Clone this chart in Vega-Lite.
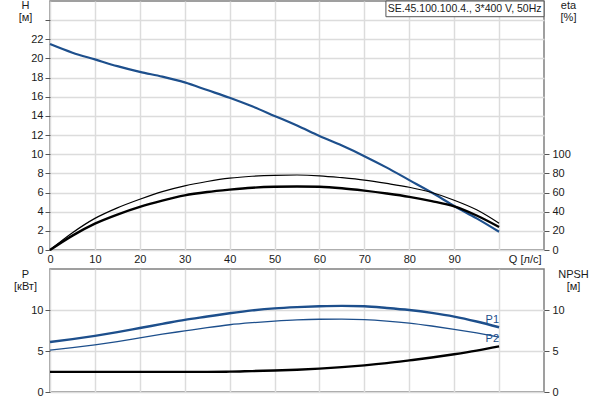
{
  "$schema": "https://vega.github.io/schema/vega-lite/v6.json",
  "background": "white",
  "padding": {"left": 12, "top": -2, "right": 0, "bottom": 0},
  "spacing": 19,
  "bounds": "flush",
  "config": {
    "font": "Liberation Sans",
    "view": {"stroke": "#808080", "strokeWidth": 1.5},
    "axis": {
      "domain": false,
      "labelFont": "Liberation Sans",
      "labelFontSize": 11,
      "labelColor": "#1a1a1a",
      "labelOverlap": false,
      "labelFlush": false,
      "titleFont": "Liberation Sans",
      "titleFontSize": 11,
      "titleFontWeight": "normal",
      "titleColor": "#1a1a1a",
      "tickColor": "#555555",
      "tickSize": 5,
      "gridColor": "#dcdcdc",
      "gridWidth": 1.5,
      "labelPadding": 2
    }
  },
  "datasets": {
    "pump": [
      {"Q": 0, "H": 21.5, "eta1": 0, "eta2": 0, "P1": 6.1, "P2": 5.1, "NPSH": 2.45},
      {"Q": 5, "H": 20.6, "eta1": 18, "eta2": 15, "P1": 6.45, "P2": 5.4, "NPSH": 2.45},
      {"Q": 10, "H": 19.9, "eta1": 33, "eta2": 27.5, "P1": 6.85, "P2": 5.75, "NPSH": 2.45},
      {"Q": 15, "H": 19.2, "eta1": 44, "eta2": 37, "P1": 7.3, "P2": 6.15, "NPSH": 2.45},
      {"Q": 20, "H": 18.6, "eta1": 53, "eta2": 45, "P1": 7.8, "P2": 6.6, "NPSH": 2.45},
      {"Q": 25, "H": 18.1, "eta1": 61, "eta2": 51.5, "P1": 8.3, "P2": 7.05, "NPSH": 2.45},
      {"Q": 30, "H": 17.5, "eta1": 67, "eta2": 57, "P1": 8.8, "P2": 7.45, "NPSH": 2.45},
      {"Q": 35, "H": 16.7, "eta1": 71.5, "eta2": 60.5, "P1": 9.2, "P2": 7.85, "NPSH": 2.46},
      {"Q": 40, "H": 15.9, "eta1": 75, "eta2": 63, "P1": 9.6, "P2": 8.2, "NPSH": 2.48},
      {"Q": 45, "H": 15.0, "eta1": 77, "eta2": 65, "P1": 9.95, "P2": 8.45, "NPSH": 2.55},
      {"Q": 50, "H": 14.0, "eta1": 78, "eta2": 66, "P1": 10.2, "P2": 8.65, "NPSH": 2.62},
      {"Q": 55, "H": 13.0, "eta1": 78.3, "eta2": 66.3, "P1": 10.35, "P2": 8.8, "NPSH": 2.72},
      {"Q": 60, "H": 11.9, "eta1": 77.5, "eta2": 66, "P1": 10.45, "P2": 8.87, "NPSH": 2.85},
      {"Q": 65, "H": 10.9, "eta1": 75.5, "eta2": 64.5, "P1": 10.5, "P2": 8.88, "NPSH": 3.03},
      {"Q": 70, "H": 9.8, "eta1": 73, "eta2": 62, "P1": 10.45, "P2": 8.82, "NPSH": 3.25},
      {"Q": 75, "H": 8.6, "eta1": 69.5, "eta2": 59, "P1": 10.25, "P2": 8.65, "NPSH": 3.52},
      {"Q": 80, "H": 7.3, "eta1": 65.5, "eta2": 55.5, "P1": 10.0, "P2": 8.4, "NPSH": 3.85},
      {"Q": 85, "H": 6.0, "eta1": 60, "eta2": 51, "P1": 9.65, "P2": 8.05, "NPSH": 4.2},
      {"Q": 90, "H": 4.6, "eta1": 52, "eta2": 45.5, "P1": 9.2, "P2": 7.65, "NPSH": 4.6},
      {"Q": 95, "H": 3.3, "eta1": 42, "eta2": 36, "P1": 8.6, "P2": 7.2, "NPSH": 5.05},
      {"Q": 100, "H": 1.9, "eta1": 28, "eta2": 24, "P1": 7.9, "P2": 6.7, "NPSH": 5.57}
    ],
    "legend": [{"label": "SE.45.100.100.4., 3*400 V, 50Hz"}],
    "ptags": [{"name": "P1", "Q": 100, "P": 7.9}, {"name": "P2", "Q": 100, "P": 5.57}]
  },
  "vconcat": [
    {
      "width": 494,
      "height": 249,
      "layer": [
        {
          "layer": [
            {
              "data": {"name": "pump"},
              "mark": {"type": "line", "color": "#1d4f8c", "strokeWidth": 2.2, "interpolate": "monotone"},
              "encoding": {
                "x": {"field": "Q", "type": "quantitative", "scale": {"domain": [0, 110], "nice": false, "zero": false},
                  "axis": {"values": [0, 10, 20, 30, 40, 50, 60, 70, 80, 90, 100], "labelExpr": "datum.value >= 100 ? '' : datum.label", "ticks": false, "labelPadding": 3, "grid": true,
                    "title": "Q [л/с]", "titleAnchor": null, "titleX": 491, "titleY": 12, "titleAlign": "right", "titleBaseline": "alphabetic"}},
                "y": {"field": "H", "type": "quantitative", "scale": {"domain": [0, 26], "nice": false},
                  "axis": {"values": [0, 2, 4, 6, 8, 10, 12, 14, 16, 18, 20, 22, 24], "tickCount": 13, "labelOverlap": false, "labelExpr": "datum.value > 22 ? '' : datum.label",
                    "grid": true, "title": ["H", "[м]"], "titleAngle": 0, "titleAlign": "center", "titleBaseline": "alphabetic", "titleX": -25, "titleY": 7.5, "titleLineHeight": 12}}
              }
            },
            {
              "data": {"name": "legend"},
              "mark": {"type": "rect", "fill": "white", "stroke": "#555555", "strokeWidth": 1},
              "encoding": {
                "x": {"datum": 74.8, "type": "quantitative"},
                "x2": {"datum": 110},
                "y": {"datum": 26, "type": "quantitative"},
                "y2": {"datum": 24.36}
              }
            },
            {
              "data": {"name": "legend"},
              "mark": {"type": "text", "align": "right", "baseline": "top", "dx": -2.5, "dy": 3, "fontSize": 10.5, "font": "Liberation Sans", "color": "#1a1a1a"},
              "encoding": {
                "x": {"datum": 110, "type": "quantitative"},
                "y": {"datum": 26, "type": "quantitative"},
                "text": {"field": "label"}
              }
            }
          ]
        },
        {
          "data": {"name": "pump"},
          "layer": [
            {
              "mark": {"type": "line", "color": "black", "strokeWidth": 1.2, "interpolate": "monotone"},
              "encoding": {
                "x": {"field": "Q", "type": "quantitative"},
                "y": {"field": "eta1", "type": "quantitative", "scale": {"domain": [0, 260], "nice": false},
                  "axis": {"orient": "right", "values": [0, 20, 40, 60, 80, 100], "grid": false, "labelPadding": 3,
                    "title": ["eta", "[%]"], "titleAngle": 0, "titleAlign": "center", "titleBaseline": "alphabetic", "titleX": 24, "titleY": 7.5, "titleLineHeight": 12}}
              }
            },
            {
              "mark": {"type": "line", "color": "black", "strokeWidth": 2.4, "interpolate": "monotone"},
              "encoding": {
                "x": {"field": "Q", "type": "quantitative"},
                "y": {"field": "eta2", "type": "quantitative"}
              }
            }
          ]
        }
      ],
      "resolve": {"scale": {"y": "independent"}, "axis": {"y": "independent"}}
    },
    {
      "width": 494,
      "height": 123,
      "layer": [
        {
          "layer": [
            {
              "data": {"name": "pump"},
              "mark": {"type": "line", "color": "#1d4f8c", "strokeWidth": 2.4, "interpolate": "monotone"},
              "encoding": {
                "x": {"field": "Q", "type": "quantitative", "scale": {"domain": [0, 110], "nice": false, "zero": false},
                  "axis": {"values": [0, 10, 20, 30, 40, 50, 60, 70, 80, 90, 100], "labels": false, "ticks": false, "grid": true, "title": null}},
                "y": {"field": "P1", "type": "quantitative", "scale": {"domain": [0, 15], "nice": false},
                  "axis": {"values": [0, 5, 10], "grid": true, "title": ["P", "[кВт]"], "titleAngle": 0, "titleAlign": "center", "titleBaseline": "alphabetic", "titleX": -25, "titleY": 8.3, "titleLineHeight": 12}}
              }
            },
            {
              "data": {"name": "pump"},
              "mark": {"type": "line", "color": "#1d4f8c", "strokeWidth": 1.3, "interpolate": "monotone"},
              "encoding": {
                "x": {"field": "Q", "type": "quantitative"},
                "y": {"field": "P2", "type": "quantitative"}
              }
            },
            {
              "data": {"name": "ptags"},
              "mark": {"type": "text", "align": "right", "baseline": "alphabetic", "dx": 0, "dy": -4, "fontSize": 11, "font": "Liberation Sans", "color": "#1d4f8c"},
              "encoding": {
                "x": {"field": "Q", "type": "quantitative"},
                "y": {"field": "P", "type": "quantitative"},
                "text": {"field": "name"}
              }
            }
          ]
        },
        {
          "data": {"name": "pump"},
          "mark": {"type": "line", "color": "black", "strokeWidth": 2.4, "interpolate": "monotone"},
          "encoding": {
            "x": {"field": "Q", "type": "quantitative"},
            "y": {"field": "NPSH", "type": "quantitative", "scale": {"domain": [0, 15], "nice": false},
              "axis": {"orient": "right", "values": [0, 5, 10], "grid": false, "labelPadding": 3,
                "title": ["NPSH", "[м]"], "titleAngle": 0, "titleAlign": "center", "titleBaseline": "alphabetic", "titleX": 29, "titleY": 8.3, "titleLineHeight": 12}}
          }
        }
      ],
      "resolve": {"scale": {"y": "independent"}, "axis": {"y": "independent"}}
    }
  ]
}
